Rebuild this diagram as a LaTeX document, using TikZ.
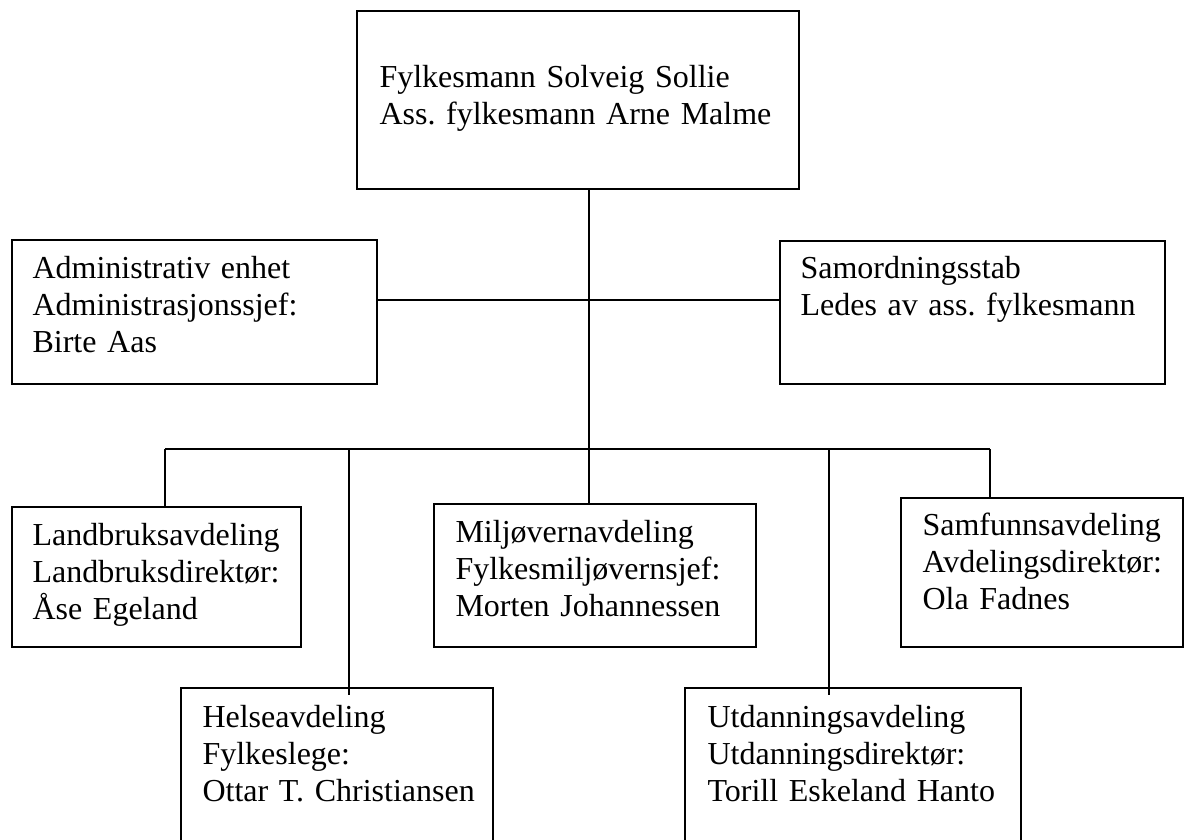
\documentclass[tikz,border=0pt]{standalone}
\usepackage{fontspec}
\setmainfont{Liberation Serif}
\usetikzlibrary{fit}
\frenchspacing

\tikzset{
  orgbox/.style={draw, line width=0.75pt, inner sep=0pt},
  orgtext/.style={anchor=base west, inner sep=0pt, text width=12cm, align=left,
    font=\fontsize{12}{14}\selectfont},
  link/.style={line width=0.75pt}
}

\begin{document}
\begin{tikzpicture}[x=0.375pt, y=-0.375pt]
  \useasboundingbox (0,0) rectangle (1187,839);
  \clip (0,0) rectangle (1187,839);

  % boxes
  \node[orgbox, fit={(357,11) (799,189)}] (fm) {};
  \node[orgbox, fit={(12,240) (377,384)}] (adm) {};
  \node[orgbox, fit={(780,241) (1165,384)}] (sam) {};
  \node[orgbox, fit={(12,507) (301,647)}] (lbr) {};
  \node[orgbox, fit={(434,504) (756,647)}] (mvn) {};
  \node[orgbox, fit={(901,498) (1183,647)}] (saf) {};
  \node[orgbox, fit={(181,688) (493,880)}] (hel) {};
  \node[orgbox, fit={(685,688) (1021,880)}] (utd) {};

  % texts
  \node[orgtext] (fmtxt) at (379,87) {Fylkesmann Solveig Sollie\\Ass. fylkesmann Arne Malme};
  \node[orgtext] (admtxt) at (32,278) {Administrativ enhet\\Administrasjonssjef:\\Birte Aas};
  \node[orgtext] (samtxt) at (800,278) {Samordningsstab\\Ledes av ass. fylkesmann};
  \node[orgtext] (lbrtxt) at (32,545) {Landbruksavdeling\\Landbruksdirektør:\\Åse Egeland};
  \node[orgtext] (mvntxt) at (455,542) {Miljøvernavdeling\\Fylkesmiljøvernsjef:\\Morten Johannessen};
  \node[orgtext] (saftxt) at (922,535) {Samfunnsavdeling\\Avdelingsdirektør:\\Ola Fadnes};
  \node[orgtext] (heltxt) at (202,727) {Helseavdeling\\Fylkeslege:\\Ottar T. Christiansen};
  \node[orgtext] (utdtxt) at (707,727) {Utdanningsavdeling\\Utdanningsdirektør:\\Torill Eskeland Hanto};

  % connectors
  \coordinate (mid) at (589,300);
  \coordinate (d1) at (165,449);
  \coordinate (d2) at (349,449);
  \coordinate (d3) at (589,449);
  \coordinate (d4) at (829,449);
  \coordinate (d5) at (990,449);
  \draw[link] (fm.south -| d3) -- (d3);
  \draw[link] (adm.east |- mid) -- (sam.west |- mid);
  \draw[link] (d1) -- (d5);
  \draw[link] (d1) -- (d1 |- lbr.north);
  \draw[link] (d2) -- ([yshift=-3pt]d2 |- hel.north);
  \draw[link] (d3) -- (d3 |- mvn.north);
  \draw[link] (d4) -- ([yshift=-3pt]d4 |- utd.north);
  \draw[link] (d5) -- (d5 |- saf.north);
\end{tikzpicture}
\end{document}
